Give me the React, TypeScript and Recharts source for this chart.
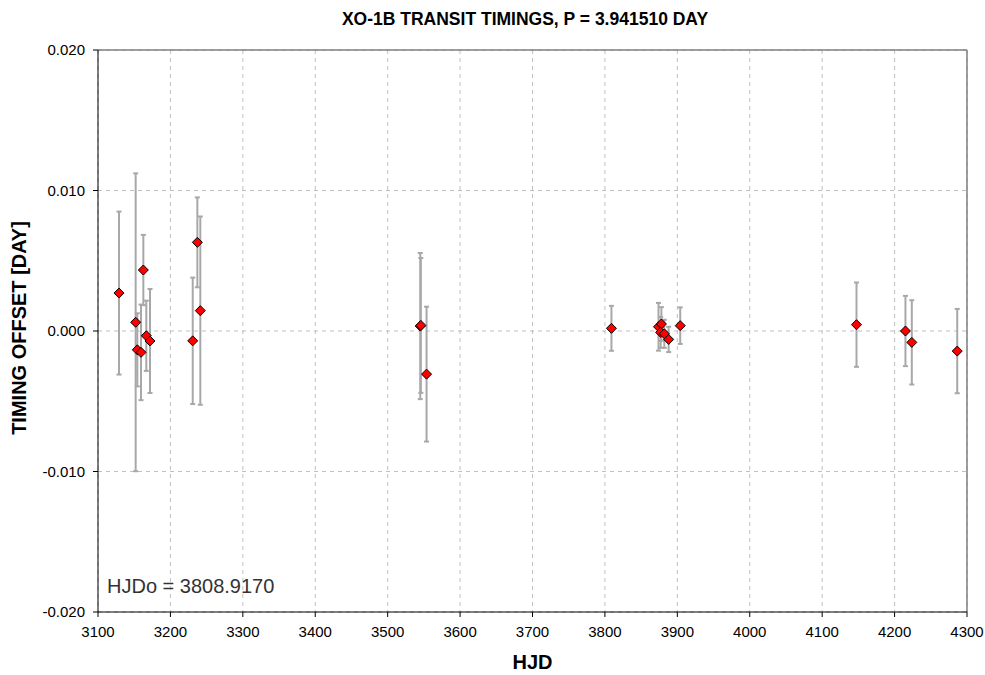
import {
  CartesianGrid,
  ErrorBar,
  ReferenceLine,
  Scatter,
  ScatterChart,
  XAxis,
  YAxis,
} from 'recharts';

// transit timings
const hjd = [
  3129, 3152, 3154.3, 3159.4, 3162.6, 3166.7, 3171.8, 3230.8, 3237.2, 3241.3,
  3545, 3545.8, 3553.7, 3809, 3874, 3878, 3877, 3882, 3888, 3904, 4147.4,
  4215, 4223.8, 4286.5,
];
const offset = [
  0.0027, 0.00062, -0.00134, -0.00152, 0.00434, -0.00034, -0.00071, -0.0007,
  0.00631, 0.00145, 0.00035, 0.0004, -0.00307, 0.00019, 0.0003, 0.0005,
  -0.0001, -0.0002, -0.0006, 0.00038, 0.00045, 0.0, -0.00081, -0.00143,
];
const err = [
  0.0058, 0.0106, 0.0026, 0.0034, 0.0025, 0.0025, 0.0037, 0.0045, 0.0032,
  0.0067, 0.0052, 0.0048, 0.0048, 0.0016, 0.0017, 0.0012, 0.0011, 0.001,
  0.0009, 0.0013, 0.003, 0.0025, 0.003, 0.003,
];

const xTicks = [
  3100, 3200, 3300, 3400, 3500, 3600, 3700, 3800, 3900, 4000, 4100, 4200, 4300,
];
const yTicks = [-0.02, -0.01, 0, 0.01, 0.02];

const data = hjd.map((x, i) => ({ x, y: offset[i], err: err[i] }));

const FONT = '"Liberation Sans", Arial, sans-serif';

const TICK_STYLE = { fontSize: 15, fill: '#000', fontFamily: FONT };

function Diamond(props: any) {
  const { cx, cy } = props;
  const r = 5;
  return (
    <path
      d={`M${cx},${cy - r}L${cx + r},${cy}L${cx},${cy + r}L${cx - r},${cy}Z`}
      fill="#ff0000"
      stroke="#000"
      strokeWidth={1}
    />
  );
}

export default function App() {
  return (
    <div
      style={{
        position: 'absolute',
        left: 0,
        top: 0,
        width: 985,
        height: 675,
        background: '#fff',
        fontFamily: FONT,
      }}
    >
      <ScatterChart
        width={985}
        height={675}
        margin={{ top: 50, right: 18, bottom: 33, left: 0 }}
      >
        <CartesianGrid stroke="#c0c0c0" strokeDasharray="4 4" />
        <XAxis
          type="number"
          dataKey="x"
          domain={[3100, 4300]}
          ticks={xTicks}
          tick={TICK_STYLE}
          tickSize={5}
          stroke="#000"
          tickMargin={9}
          allowDataOverflow
        />
        <YAxis
          type="number"
          dataKey="y"
          width={98}
          domain={[-0.02, 0.02]}
          ticks={yTicks}
          tick={TICK_STYLE}
          tickSize={5}
          tickMargin={8}
          stroke="#000"
          tickFormatter={(v: number) => v.toFixed(3)}
          allowDataOverflow
        />
        <ReferenceLine y={0.02} stroke="#808080" strokeWidth={1.5} />
        <ReferenceLine x={4300} stroke="#808080" strokeWidth={1.5} />
        <Scatter data={data} shape={<Diamond />} isAnimationActive={false}>
          <ErrorBar
            dataKey="err"
            direction="y"
            width={2.5}
            strokeWidth={2}
            stroke="#a8a8a8"
          />
        </Scatter>
      </ScatterChart>

      <div
        style={{
          position: 'absolute',
          left: 0,
          width: 1050,
          top: 9,
          textAlign: 'center',
          fontSize: 17.5,
          fontWeight: 700,
        }}
      >
        XO-1B TRANSIT TIMINGS, P = 3.941510 DAY
      </div>
      <div
        style={{
          position: 'absolute',
          left: 0,
          width: 1065,
          top: 651,
          textAlign: 'center',
          fontSize: 20,
          fontWeight: 700,
        }}
      >
        HJD
      </div>
      <div
        style={{
          position: 'absolute',
          left: 19,
          top: 328,
          transform: 'translate(-50%, -50%) rotate(-90deg)',
          whiteSpace: 'nowrap',
          fontSize: 20,
          fontWeight: 700,
        }}
      >
        TIMING OFFSET [DAY]
      </div>
      <div
        style={{
          position: 'absolute',
          left: 107,
          top: 575,
          fontSize: 20,
          color: '#333',
        }}
      >
        HJDo = 3808.9170
      </div>
    </div>
  );
}
